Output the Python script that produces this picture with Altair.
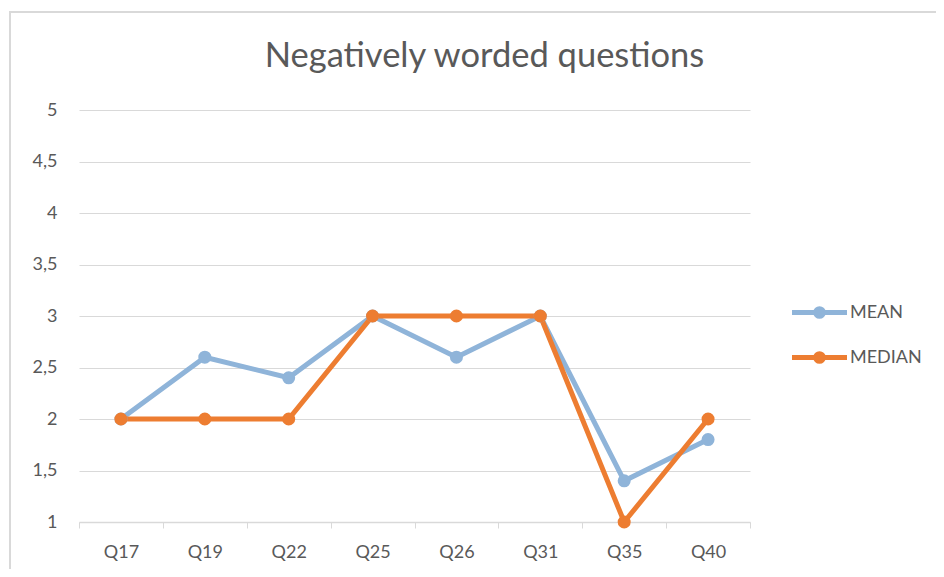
import altair as alt
import pandas as pd

questions = ["Q17", "Q19", "Q22", "Q25", "Q26", "Q31", "Q35", "Q40"]
mean_vals = [2.0, 2.6, 2.4, 3.0, 2.6, 3.0, 1.4, 1.8]
median_vals = [2, 2, 2, 3, 3, 3, 1, 2]
series = ["MEAN", "MEDIAN"]
colors = ["#8FB4D9", "#ED7D31"]
y_ticks = [1, 1.5, 2, 2.5, 3, 3.5, 4, 4.5, 5]

rows = []
for i, q in enumerate(questions):
    rows.append({"q": q, "series": "MEAN", "value": mean_vals[i], "order": 0})
for i, q in enumerate(questions):
    rows.append({"q": q, "series": "MEDIAN", "value": median_vals[i], "order": 1})
df = pd.DataFrame(rows)

FONT = "Lato"
TXT = "#595959"

x_enc = alt.X(
    "q:N",
    sort=questions,
    scale=alt.Scale(type="band", paddingInner=0, paddingOuter=0),
    bandPosition=0.5,
    axis=alt.Axis(
        title=None, labelAngle=0, tickBand="extent", ticks=True, tickSize=6,
        tickColor="#d9d9d9", domainColor="#d9d9d9", domainWidth=1.5,
        labelFontSize=18, labelColor=TXT, labelFont=FONT, labelPadding=15,
        grid=False,
    ),
)
y_enc = alt.Y(
    "value:Q",
    scale=alt.Scale(domain=[1, 5], nice=False, zero=False),
    axis=alt.Axis(
        title=None, values=y_ticks, domain=False, ticks=False, grid=True,
        gridColor="#d9d9d9", gridWidth=1,
        labelExpr="replace(format(datum.value, '~g'), '.', ',')",
        labelFontSize=18, labelColor=TXT, labelFont=FONT, labelPadding=22,
    ),
)
color_enc = alt.Color(
    "series:N",
    scale=alt.Scale(domain=series, range=colors),
    legend=alt.Legend(
        title=None, orient="none", legendX=727, legendY=189,
        symbolType="M-2.5,0H2.5M0.35,0A0.35,0.35 0 1,1 -0.35,0A0.35,0.35 0 1,1 0.35,0",
        symbolSize=484, symbolStrokeWidth=5,
        labelFontSize=18, labelColor=TXT, labelFont=FONT, labelOffset=17,
        rowPadding=16, padding=0,
    ),
)

lines = alt.Chart(df).mark_line(
    strokeWidth=5,
    point=alt.OverlayMarkDef(filled=True, size=170, opacity=1),
).encode(x=x_enc, y=y_enc, color=color_enc, order="order:Q", detail="series:N")

border = alt.Chart(pd.DataFrame({"a": [0]})).mark_rect(
    fill=None, stroke="#d9d9d9", strokeWidth=2, clip=False
).encode(
    x=alt.value(-69), x2=alt.value(1000), y=alt.value(-98), y2=alt.value(700)
)

chart = alt.layer(border, lines).properties(
    width=671,
    height=412,
    autosize=alt.AutoSizeParams(type="none"),
    padding={"left": 71, "top": 102, "right": 186, "bottom": 47},
    title=alt.TitleParams(
        "Negatively worded questions", fontSize=34.5, font=FONT, color=TXT,
        fontWeight="normal", anchor="middle", dx=70, offset=-90,
        baseline="alphabetic",
    ),
).configure_view(stroke=None)

chart.save("out.html", embed_options={"renderer": "svg", "actions": False})
